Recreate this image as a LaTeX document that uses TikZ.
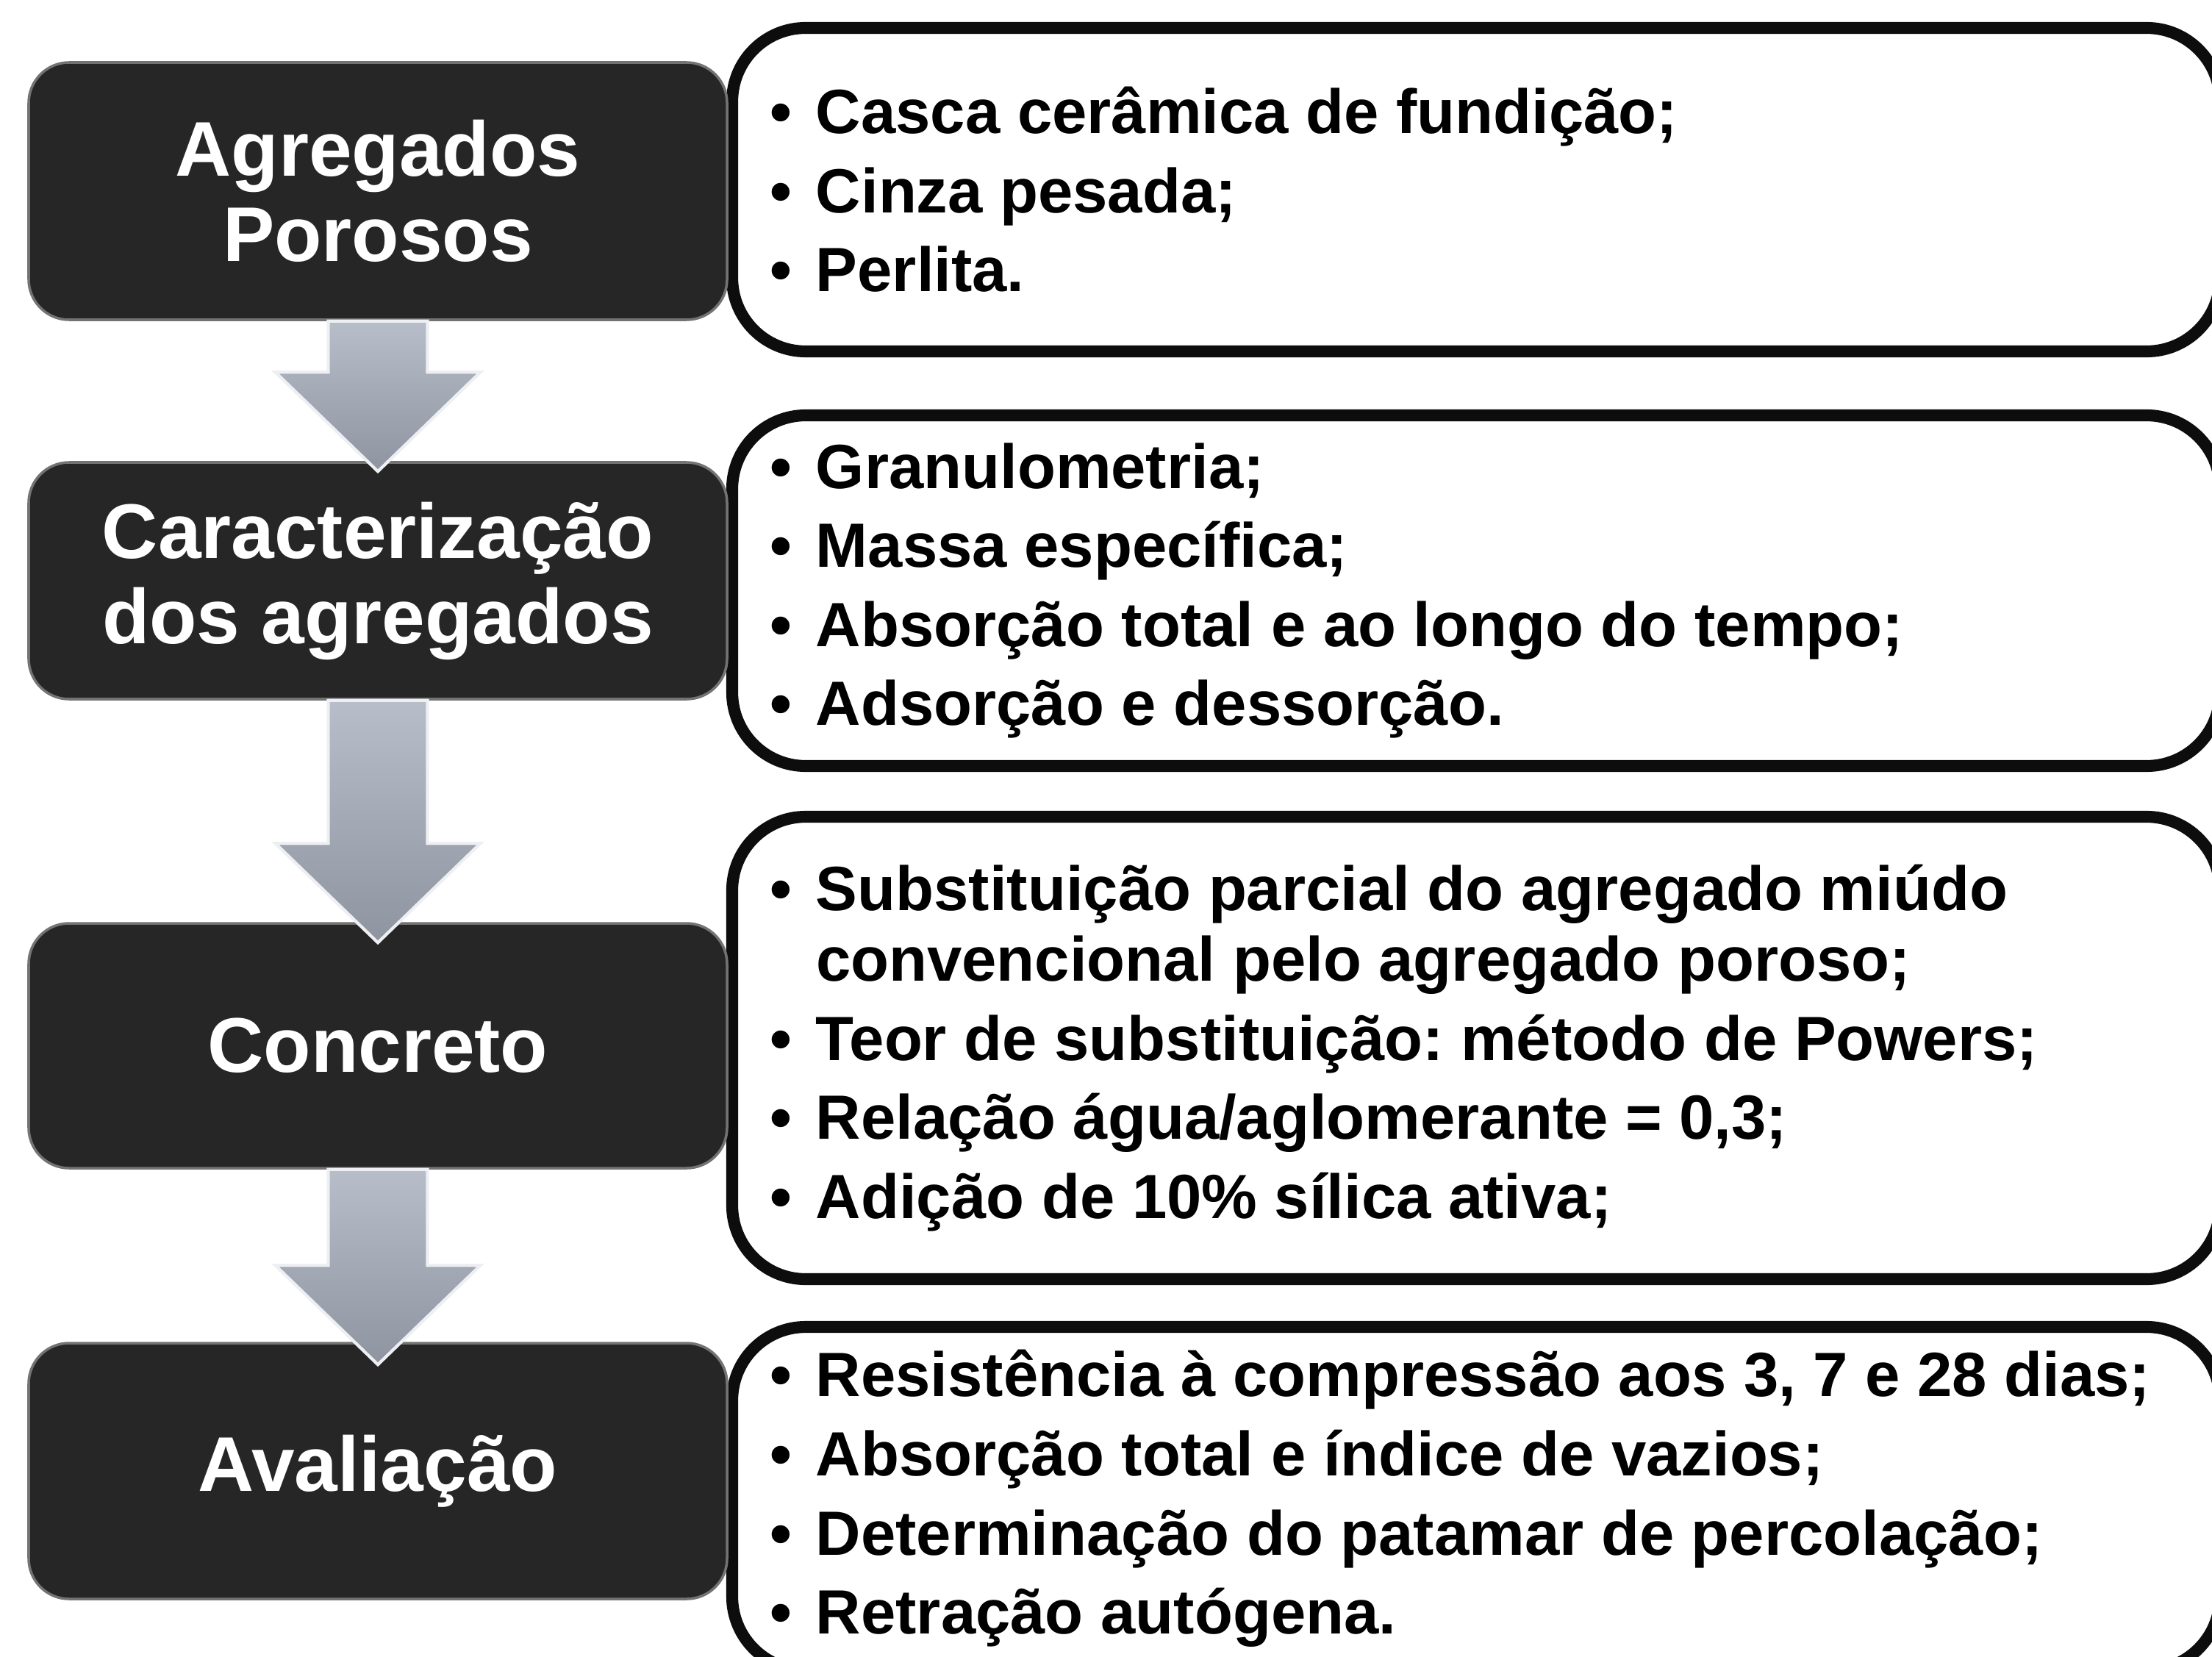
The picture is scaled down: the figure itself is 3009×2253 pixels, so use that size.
\documentclass[tikz,border=0pt]{standalone}
\usepackage{fontspec}
\setmainfont{Liberation Sans}
\usetikzlibrary{calc}
\definecolor{boxdark}{HTML}{262626}
\definecolor{arrowtop}{HTML}{B7BECA}
\definecolor{arrowbot}{HTML}{8E94A0}
\newcommand{\bul}{\hangindent=6.3mm\hangafter=1\makebox[6.3mm][l]{•}}
\newcommand{\flowarrow}[3]{%
\path[flow] let \p1=(#1.south), \p2=(#2.north) in
  (\x1-6.75mm,\y1) -- (\x1+6.75mm,\y1) -- (\x1+6.75mm,\y2-#3+13.5mm)
  -- (\x1+13.95mm,\y2-#3+13.5mm) -- (\x1,\y2-#3) -- (\x1-13.95mm,\y2-#3+13.5mm)
  -- (\x1-6.75mm,\y2-#3+13.5mm) -- cycle;}
\begin{document}
\begin{tikzpicture}[x=0.1mm,y=-0.1mm,
  stage/.style={rectangle, rounded corners=5.5mm, fill=boxdark, draw=black!55, line width=1pt,
    text=white, text width=90mm, align=center, inner sep=0pt, minimum width=95mm,
    execute at begin node={\fontsize{30}{33}\selectfont\bfseries\frenchspacing\spaceskip=\fontdimen2\font\relax}},
  items/.style={rectangle, rounded corners=10mm, fill=white, draw=black!95, line width=4.6pt,
    text width=192.2mm, align=left, inner sep=0pt, minimum width=202.4mm,
    execute at begin node={\fontsize{24.2}{27.3}\selectfont\bfseries\frenchspacing\spaceskip=\fontdimen2\font\relax\setlength{\parskip}{3.3pt}}},
  flow/.style={top color=arrowtop, bottom color=arrowbot, draw=white!75!arrowtop, line width=1.2pt}]
\useasboundingbox (0,0) rectangle (3009,2253);
\clip (0,0) rectangle (3009,2253);
\node [items, minimum height=44mm] (lagr) at (2008,258) {\bul Casca cerâmica de fundição;\par
\bul Cinza pesada;\par
\bul Perlita.};
\node [items, minimum height=47.7mm] (lcar) at (2008,803.5) {\bul Granulometria;\par
\bul Massa específica;\par
\bul Absorção total e ao longo do tempo;\par
\bul Adsorção e dessorção.};
\node [items, minimum height=62.9mm] (lcon) at (2008,1425.5) {\bul Substituição parcial do agregado miúdo\newline convencional pelo agregado poroso;\par
\bul Teor de substituição: método de Powers;\par
\bul Relação água/aglomerante = 0,3;\par
\bul Adição de 10\% sílica ativa;};
\node [items, minimum height=46.7mm] (lava) at (2008,2038.5) {\bul Resistência à compressão aos 3, 7 e 28 dias;\par
\bul Absorção total e índice de vazios;\par
\bul Determinação do patamar de percolação;\par
\bul Retração autógena.};
\node [stage, minimum height=35mm] (agr) at (514,260) {Agregados\\Porosos};
\node [stage, minimum height=32.2mm] (car) at (514,790) {Caracterização\\dos agregados};
\node [stage, minimum height=33.3mm] (con) at (514,1422.5) {Concreto};
\node [stage, minimum height=34.8mm] (ava) at (514,2001) {Avaliação};
\flowarrow{agr}{car}{1.4mm}
\flowarrow{car}{con}{2.8mm}
\flowarrow{con}{ava}{3.1mm}
\end{tikzpicture}
\end{document}
